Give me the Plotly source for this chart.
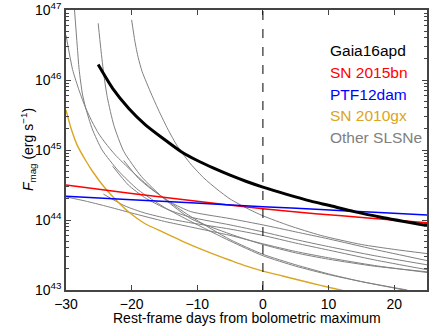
import plotly.graph_objects as go

# Magnetar input power of Gaia16apd and other SLSNe.
# Values are log10 of F_mag (erg/s).
gaia_x = [-25.1, -22.9, -20.4, -17.9, -15, -12.5, -10, -7.5, -5, -2.5, 0,
          3.5, 7.3, 10, 13.9, 18, 25]
gaia_logF = [46.22, 45.88, 45.59, 45.36, 45.15, 44.98, 44.85, 44.74, 44.64,
             44.55, 44.47, 44.37, 44.27, 44.21, 44.12, 44.04, 43.92]

sn2015bn_x = [-30, -20, -11, 0, 8, 16, 25]
sn2015bn_logF = [44.50, 44.38, 44.28, 44.16, 44.09, 44.03, 43.96]

ptf12dam_x = [-30, -20, -11, 0, 8.8, 17, 25]
ptf12dam_logF = [44.34, 44.29, 44.245, 44.19, 44.15, 44.11, 44.07]

sn2010gx_x = [-30, -29.2, -28.3, -27, -26, -24, -22, -20.4, -18, -15.3, -13,
              -11, -8, -5, -2.5, 0, 3, 7.3, 10, 12.3]
sn2010gx_logF = [45.57, 45.30, 45.07, 44.85, 44.70, 44.45, 44.25, 44.11,
                 43.95, 43.83, 43.73, 43.645, 43.53, 43.425, 43.34, 43.27,
                 43.20, 43.10, 43.04, 42.99]

other_x = [
    [-30, -29, -28, -27, -26, -25, -24, -22.5, -20, -17, -14, -11, -5, 0,
     5, 10, 15, 22],
    [-28.7, -28.3, -28, -27.5, -27, -26, -24.5, -22, -19, -15, -11, -5, 0,
     5, 10, 15, 21.5],
    [-25.1, -24.7, -24.2, -23.7, -22.7, -21.2, -18.5, -15, -11, -5, 0, 5,
     10, 17, 25],
    [-20, -19.5, -19, -18.4, -17, -15.8, -14.5, -13, -11, -9, -7, -5, -2.5,
     0, 4, 8.8, 15, 20, 25],
    [-21.2, -19, -17, -14, -11, -5, 0, 5, 10, 17, 25],
    [-22.9, -20.5, -18, -14.5, -11, -5, 0, 5, 10, 17, 25],
    [-24.3, -21, -18, -14.5, -11, -5, 0, 5, 10, 17, 25],
    [-30, -27, -24, -20, -15, -11, -5, 0, 5, 10, 17, 25],
]
other_logF = [
    [46.64, 46.15, 45.85, 45.60, 45.40, 45.23, 45.10, 44.93, 44.70, 44.45,
     44.24, 44.05, 43.72, 43.51, 43.36, 43.23, 43.12, 43.0],
    [47.0, 46.5, 46.15, 45.80, 45.60, 45.30, 45.0, 44.70, 44.43, 44.18,
     43.98, 43.70, 43.49, 43.34, 43.22, 43.12, 43.0],
    [46.81, 46.45, 46.05, 45.75, 45.35, 44.98, 44.62, 44.30, 44.02, 43.80,
     43.65, 43.53, 43.44, 43.34, 43.26],
    [46.86, 46.55, 46.32, 46.12, 45.80, 45.55, 45.30, 45.05, 44.80, 44.60,
     44.44, 44.30, 44.17, 44.06, 43.92, 43.78, 43.65, 43.58, 43.52],
    [44.85, 44.60, 44.44, 44.25, 44.12, 44.02, 43.93, 43.83, 43.73, 43.58,
     43.42],
    [44.77, 44.50, 44.32, 44.15, 44.04, 43.93, 43.83, 43.72, 43.62, 43.49,
     43.36],
    [44.37, 44.20, 44.10, 44.02, 43.96, 43.87, 43.78, 43.67, 43.57, 43.43,
     43.29],
    [44.33, 44.27, 44.20, 44.10, 43.98, 43.90, 43.78, 43.66, 43.55, 43.46,
     43.35, 43.25],
]

legend_names = ["Gaia16apd", "SN 2015bn", "PTF12dam", "SN 2010gx", "Other SLSNe"]
legend_colors = ["black", "red", "blue", "#DAA520", "gray"]

font = "Liberation Sans, Arial, sans-serif"


def lin(logs):
    return [10.0 ** v for v in logs]


fig = go.Figure()

for xs, ls in zip(other_x, other_logF):
    fig.add_trace(go.Scatter(x=xs, y=lin(ls), mode="lines",
                             line=dict(color="gray", width=1, shape="spline",
                                       smoothing=0.6),
                             showlegend=False))

fig.add_trace(go.Scatter(x=sn2010gx_x, y=lin(sn2010gx_logF), mode="lines",
                         line=dict(color="#DAA520", width=1.4, shape="spline",
                                   smoothing=0.6),
                         showlegend=False))
fig.add_trace(go.Scatter(x=sn2015bn_x, y=lin(sn2015bn_logF), mode="lines",
                         line=dict(color="red", width=1.5, shape="spline",
                                   smoothing=0.6),
                         showlegend=False))
fig.add_trace(go.Scatter(x=ptf12dam_x, y=lin(ptf12dam_logF), mode="lines",
                         line=dict(color="blue", width=1.5, shape="spline",
                                   smoothing=0.6),
                         showlegend=False))
fig.add_trace(go.Scatter(x=gaia_x, y=lin(gaia_logF), mode="lines",
                         line=dict(color="black", width=3, shape="spline",
                                   smoothing=0.6),
                         showlegend=False))

fig.add_vline(x=0, line_dash="dash", line_color="black", line_width=1)

for i, (name, col) in enumerate(zip(legend_names, legend_colors)):
    fig.add_annotation(x=0.727, y=0.857 - i * 0.0785, xref="paper", yref="paper",
                       text=name, showarrow=False, xanchor="left",
                       yanchor="middle",
                       font=dict(color=col, size=15.5, family=font))

# axis titles placed as annotations so they sit as close as in the original
fig.add_annotation(x=0.5, y=-0.1, xref="paper", yref="paper",
                   text="Rest-frame days from bolometric maximum",
                   showarrow=False, xanchor="center", yanchor="middle",
                   font=dict(size=14, family=font, color="black"))
fig.add_annotation(x=-0.105, y=0.5, xref="paper", yref="paper",
                   text="<i>F</i><sub>mag</sub> (erg s<sup>\u22121</sup>)",
                   textangle=-90, showarrow=False, xanchor="center",
                   yanchor="middle",
                   font=dict(size=14, family=font, color="black"))

minor_vals = [float(m) * 10.0 ** e for e in range(43, 47) for m in range(2, 10)]

fig.update_xaxes(range=[-30, 25], tickvals=[-30, -20, -10, 0, 10, 20],
                 ticktext=["\u221230", "\u221220", "\u221210", "0", "10", "20"],
                 ticks="inside", ticklen=5, tickcolor="#444",
                 mirror="allticks", showline=True, automargin=False,
                 linecolor="#444", linewidth=1.5, showgrid=False, zeroline=False,
                 tickfont=dict(size=14))
fig.update_yaxes(type="log", range=[43, 47],
                 tickvals=[1e43, 1e44, 1e45, 1e46, 1e47],
                 ticktext=["10<sup>43</sup>", "10<sup>44</sup>", "10<sup>45</sup>",
                           "10<sup>46</sup>", "10<sup>47</sup>"],
                 ticks="inside", ticklen=5, tickcolor="#444",
                 mirror="allticks", showline=True, automargin=False,
                 linecolor="#444", linewidth=1.5, showgrid=False,
                 minor=dict(ticks="inside", ticklen=3, tickcolor="#444",
                            showgrid=False, tickvals=minor_vals),
                 tickfont=dict(size=14))

fig.update_layout(
    width=436, height=327,
    margin=dict(l=66, r=9, t=10, b=37),
    plot_bgcolor="white", paper_bgcolor="white",
    font=dict(family=font, color="black", size=14),
)

fig.write_html("out.html", config={"displayModeBar": False},
               post_script="document.body.style.margin='0';")
